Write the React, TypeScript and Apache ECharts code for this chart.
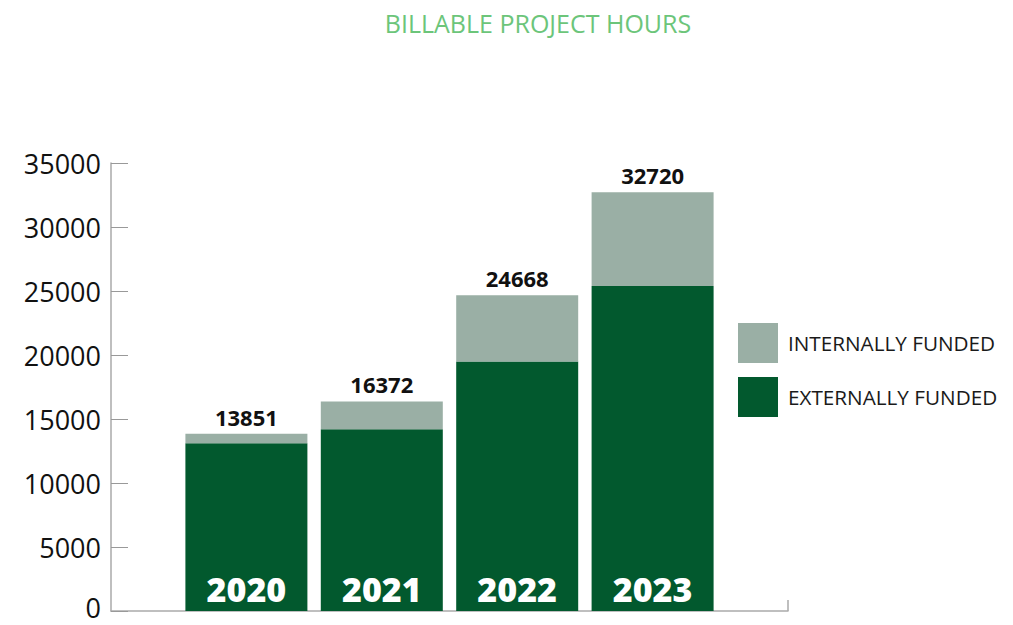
import React, { useEffect, useRef } from "react";
import * as echarts from "echarts";

const years = ["2020", "2021", "2022", "2023"];
const totals = [13851, 16372, 24668, 32720];
const externallyFunded = [13100, 14200, 19500, 25400];
const internallyFunded = [751, 2172, 5168, 7320];
const yTicks = { min: 0, max: 35000, interval: 5000 };

const GREEN = "#02592e";
const GREY = "#9aafa5";

export default function App() {
  const ref = useRef<HTMLDivElement>(null);
  useEffect(() => {
    if (!ref.current) return;
    const chart = echarts.init(ref.current, null, { renderer: "svg" });
    // pad with empty slots so the category points sit one band in from each axis end
    const cats = ["", ...years, ""];
    const ext = [null, ...externallyFunded, null];
    const int = [null, ...internallyFunded, null];
    const tot = [null, ...totals, null];
    chart.setOption({
      animation: false,
      backgroundColor: "#ffffff",
      title: {
        text: "BILLABLE PROJECT HOURS",
        left: 533,
        top: 5,
        textAlign: "center",
        textStyle: {
          color: "#6cc57a",
          fontFamily: "Open Sans",
          fontWeight: "normal",
          fontSize: 25,
        },
      },
      legend: {
        orient: "vertical",
        left: 738,
        top: 323,
        padding: 0,
        itemWidth: 40,
        itemHeight: 40,
        itemGap: 14,
        icon: "rect",
        data: ["INTERNALLY FUNDED", "EXTERNALLY FUNDED"],
        textStyle: {
          color: "#1a1a1a",
          fontFamily: "Open Sans",
          fontSize: 20.7,
          padding: [0, 0, 0, 5],
        },
      },
      grid: { left: 111, right: 225, top: 163, bottom: 14 },
      xAxis: {
        type: "category",
        data: cats,
        boundaryGap: false,
        axisLine: { show: true, lineStyle: { color: "#aaaaaa", width: 1.5 } },
        axisTick: {
          show: true,
          inside: true,
          length: 11,
          interval: (i: number) => i === cats.length - 1,
          lineStyle: { color: "#aaaaaa", width: 1.5 },
        },
        axisLabel: { show: false },
        splitLine: { show: false },
      },
      yAxis: {
        type: "value",
        min: yTicks.min,
        max: yTicks.max,
        interval: yTicks.interval,
        axisLine: { show: true, lineStyle: { color: "#aaaaaa", width: 1.5 } },
        axisTick: {
          show: true,
          inside: true,
          length: 17,
          lineStyle: { color: "#999999", width: 1 },
        },
        axisLabel: {
          color: "#111111",
          fontFamily: "Open Sans",
          fontSize: 27,
          margin: 10,
          formatter: (v: number) => (v === 0 ? "{z|0}" : String(v)),
          rich: {
            z: {
              color: "#111111",
              fontFamily: "Open Sans",
              fontSize: 27,
              padding: [0, 0, 8, 0],
            },
          },
        },
        splitLine: { show: false },
      },
      series: [
        {
          name: "EXTERNALLY FUNDED",
          type: "bar",
          stack: "hours",
          barWidth: 122,
          data: ext,
          itemStyle: { color: GREEN },
          label: {
            show: true,
            position: "insideBottom",
            distance: 5,
            formatter: (p: any) => cats[p.dataIndex],
            color: "#ffffff",
            fontFamily: "Open Sans",
            fontWeight: 800,
            fontSize: 34,
          },
        },
        {
          name: "INTERNALLY FUNDED",
          type: "bar",
          stack: "hours",
          barWidth: 122,
          data: int,
          itemStyle: { color: GREY },
          label: {
            show: true,
            position: "top",
            distance: 6,
            formatter: (p: any) => String(tot[p.dataIndex] ?? ""),
            color: "#111111",
            fontFamily: "Open Sans",
            fontWeight: "bold",
            fontSize: 22,
          },
        },
      ],
    });
    return () => chart.dispose();
  }, []);
  return (
    <div
      ref={ref}
      style={{ position: "fixed", left: 0, top: 0, width: 1013, height: 625 }}
    />
  );
}
